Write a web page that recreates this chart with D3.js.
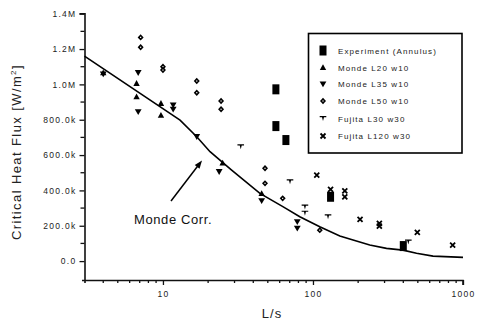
<!DOCTYPE html>
<html><head><meta charset="utf-8">
<script src="https://cdn.jsdelivr.net/npm/d3@7/dist/d3.min.js"></script>
<style>
html,body{margin:0;padding:0;background:#fff;}
svg{display:block;font-family:Arial,"Liberation Sans",sans-serif;}
</style></head><body>
<svg id="c" width="479" height="331"></svg>
<script>
// ---- data (L/s, CHF W/m^2) ----
const expL   = [56.6, 56.6, 66, 131, 400];
const expV   = [972e3, 764e3, 685e3, 364e3, 85e3];
const l20L   = [4.0, 6.67, 6.67, 9.7, 9.7, 25, 45.5];
const l20V   = [1066e3, 1006e3, 930e3, 893e3, 826e3, 556e3, 383e3];
const l35L   = [4.0, 6.84, 6.84, 11.7, 11.7, 16.8, 23.7, 45.5, 78.6, 78.6];
const l35V   = [1058e3, 1066e3, 845e3, 883e3, 859e3, 704e3, 506e3, 341e3, 222e3, 185e3];
const l50L   = [7.1, 7.1, 10, 10, 16.8, 16.8, 24.4, 24.4, 47.9, 47.9, 62.8, 111];
const l50V   = [1266e3, 1210e3, 1100e3, 1081e3, 1019e3, 953e3, 906e3, 859e3, 525e3, 440e3, 355e3, 175e3];
const f30L   = [33, 70.3, 88.4, 88.4, 126, 432];
const f30V   = [647e3, 449e3, 306e3, 272e3, 251e3, 109e3];
const f120L  = [106, 131, 163, 163, 206, 277, 277, 496, 853];
const f120V  = [487e3, 406e3, 398e3, 364e3, 236e3, 213e3, 198e3, 162e3, 91e3];
const corrL  = [3.0, 13, 16.8, 20.6, 28.7, 44.3, 63.4, 81.7, 111, 151, 185, 239, 309, 398, 490, 631, 1000];
const corrV  = [1160e3, 798e3, 704e3, 619e3, 515e3, 383e3, 307e3, 251e3, 194e3, 142e3, 119e3, 91e3, 72e3, 62e3, 44e3, 28e3, 21e3];
const yTicks = [0, 200e3, 400e3, 600e3, 800e3, 1000e3, 1200e3, 1400e3];
const yTickLabels = ["0.0", "200.0k", "400.0k", "600.0k", "800.0k", "1.0M", "1.2M", "1.4M"];
const xTicks = [10, 100, 1000];
const seriesNames = ["Experiment (Annulus)", "Monde L20 w10", "Monde L35 w10", "Monde L50 w10", "Fujita L30 w30", "Fujita L120 w30"];

const svg = d3.select("#c");
const x = d3.scaleLog().domain([3, 1000]).range([84.5, 463]);
const y = d3.scaleLinear().domain([-107e3, 1400e3]).range([280, 13.7]);

// axes
const ink = "#111";
const yAxis = d3.axisLeft(y).tickValues(yTicks).tickFormat((d,i)=>yTickLabels[i]).tickSize(5).tickPadding(3);
const gy = svg.append("g").attr("transform","translate(84.5,0)").call(yAxis);
const yMinor = d3.range(100e3, 1400e3, 200e3);
gy.selectAll(".minor").data(yMinor).enter().append("line").attr("class","minor")
  .attr("x1",-4).attr("x2",0).attr("y1",d=>y(d)).attr("y2",d=>y(d)).attr("stroke",ink).attr("stroke-width",1.3);

const xAxis = d3.axisBottom(x).tickValues(xTicks).tickFormat(d3.format("d")).tickSize(5).tickPadding(6);
const gx = svg.append("g").attr("transform","translate(0,280)").call(xAxis);
const xMinor = [4,5,6,7,8,9,20,30,40,50,60,70,80,90,200,300,400,500,600,700,800,900];
gx.selectAll(".minor").data(xMinor).enter().append("line").attr("class","minor")
  .attr("x1",d=>x(d)).attr("x2",d=>x(d)).attr("y1",0).attr("y2",3).attr("stroke",ink).attr("stroke-width",1.3);

[gx, gy].forEach(g=>{
  g.select(".domain").attr("stroke",ink).attr("stroke-width",1.6);
  g.selectAll(".tick line").attr("stroke",ink).attr("stroke-width",1.3);
  g.selectAll(".tick text").attr("fill","#222").style("font-size","8.5px").style("letter-spacing","1.3px");
});
gx.select(".domain").attr("d","M82,0.5H463V5");
gy.select(".domain").attr("d","M-5,13.7H0.5V283");

// axis titles
svg.append("text").attr("x",272).attr("y",318).attr("text-anchor","middle")
  .style("font-size","13px").style("letter-spacing","1px").attr("fill","#222").text("L/s");
const yt = svg.append("text").attr("transform","translate(21,152) rotate(-90)").attr("text-anchor","middle")
  .style("font-size","13px").style("letter-spacing","1.4px").attr("fill","#222");
yt.append("tspan").text("Critical Heat Flux [W/m");
yt.append("tspan").attr("dy",-5).style("font-size","8px").text("2");
yt.append("tspan").attr("dy",5).text("]");

// correlation line
const pts = corrL.map((d,i)=>[x(d), y(corrV[i])]);
svg.append("path").attr("d", d3.line()(pts)).attr("fill","none").attr("stroke","#000").attr("stroke-width",1.6);

// marker drawers
function drawSeries(Ls, Vs, kind){
  const g = svg.append("g");
  Ls.forEach((L,i)=>{ drawMarker(g, x(L), y(Vs[i]), kind); });
}
function drawMarker(g, cx, cy, kind){
  const t = g.append("g").attr("transform",`translate(${cx},${cy})`);
  if(kind===0){
    t.append("rect").attr("x",-3.5).attr("y",-5).attr("width",7).attr("height",10).attr("fill","#000");
  } else if(kind===1){
    t.append("path").attr("d","M0,-3.2L3.2,2.6H-3.2Z").attr("fill","#000");
  } else if(kind===2){
    t.append("path").attr("d","M-3.4,-2.6H3.4L0,3.2Z").attr("fill","#000");
  } else if(kind===3){
    t.append("path").attr("d","M0,-3.2L3,0L0,3.2L-3,0Z").attr("fill","#000");
    t.append("rect").attr("x",-0.6).attr("y",-0.6).attr("width",1.2).attr("height",1.2).attr("fill","#fff");
  } else if(kind===4){
    t.append("path").attr("d","M-3.3,-2.4H3.3V-1.2H1L0,2.6L-1,-1.2H-3.3Z").attr("fill","#000");
  } else {
    t.append("path").attr("d","M-2.5,-2.5L2.5,2.5M2.5,-2.5L-2.5,2.5").attr("stroke","#000").attr("stroke-width",1.8);
  }
}
drawSeries(expL, expV, 0);
drawSeries(l20L, l20V, 1);
drawSeries(l35L, l35V, 2);
drawSeries(l50L, l50V, 3);
drawSeries(f30L, f30V, 4);
drawSeries(f120L, f120V, 5);

// legend
svg.append("rect").attr("x",308.5).attr("y",33.5).attr("width",153.5).attr("height",119.5)
  .attr("fill","#fff").attr("stroke","#000").attr("stroke-width",1.6);
const rowY = [50.5, 67.5, 84, 101, 118.5, 136];
const lg = svg.append("g");
seriesNames.forEach((n,i)=>{
  drawMarker(lg, 323, rowY[i], i);
  lg.append("text").attr("x",338).attr("y",rowY[i]+3).style("font-size","8px")
    .style("letter-spacing","1.1px").attr("fill","#222").text(n);
});

// annotation
svg.append("text").attr("x",134).attr("y",224).style("font-size","13px").style("letter-spacing","0.6px")
  .attr("fill","#111").text("Monde Corr.");
const a0 = [171,201], a1 = [202,160.5];
svg.append("line").attr("x1",a0[0]).attr("y1",a0[1]).attr("x2",a1[0]-2.5).attr("y2",a1[1]+3.3)
  .attr("stroke","#000").attr("stroke-width",1.5);
const ang = Math.atan2(a1[1]-a0[1], a1[0]-a0[0]);
const hl = 8, hw = 3;
const bx = a1[0]-hl*Math.cos(ang), by = a1[1]-hl*Math.sin(ang);
svg.append("path").attr("d",`M${a1[0]},${a1[1]}L${bx+hw*Math.sin(ang)},${by-hw*Math.cos(ang)}L${bx-hw*Math.sin(ang)},${by+hw*Math.cos(ang)}Z`).attr("fill","#000");
</script>
</body></html>
